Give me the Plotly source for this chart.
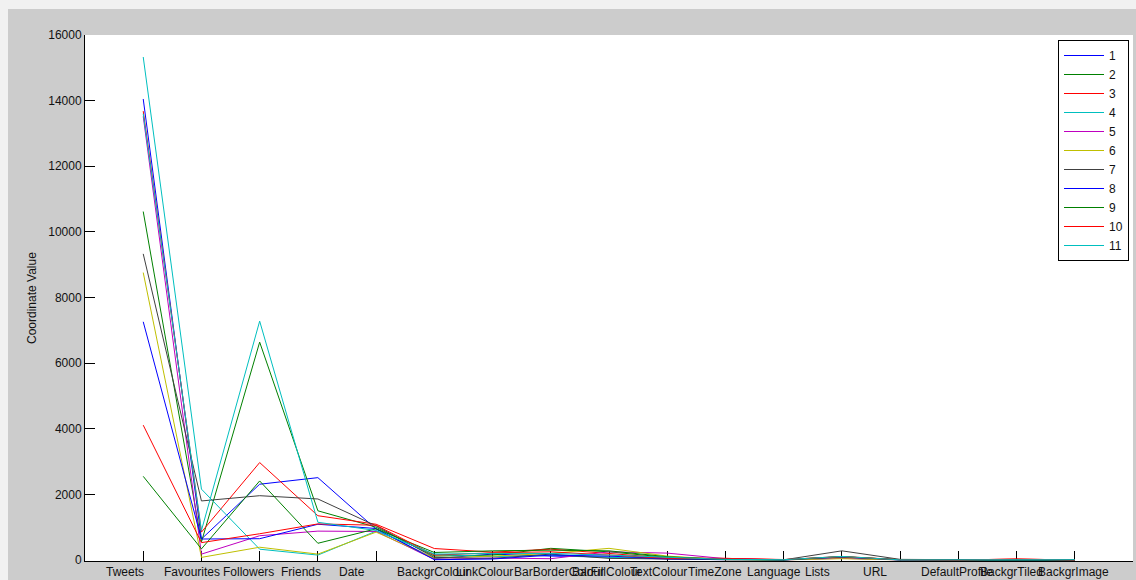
import plotly.graph_objects as go

# Parallel coordinates of Twitter account features
features = ["Tweets", "Favourites", "Followers", "Friends", "Date", "BackgrColour",
            "LinkColour", "BarBorderColour", "BarFillColour", "TextColour", "TimeZone",
            "Language", "Lists", "URL", "DefaultProfile", "BackgrTiled", "BackgrImage"]

series_names = ["1", "2", "3", "4", "5", "6", "7", "8", "9", "10", "11"]

s1 = [14050, 640, 2310, 2510, 940, 40, 180, 120, 90, 30, 10, 5, 60, 5, 0, 0, 0]
s2 = [10620, 550, 6640, 1500, 1000, 120, 150, 356, 250, 80, 20, 5, 100, 5, 0, 0, 0]
s3 = [13680, 850, 2970, 1350, 1090, 350, 240, 330, 200, 60, 50, 10, 110, 10, 0, 30, 0]
s4 = [15330, 2160, 330, 150, 880, 180, 100, 150, 80, 60, 15, 5, 80, 5, 0, 0, 10]
s5 = [13520, 180, 740, 880, 870, 20, 60, 40, 250, 210, 40, 5, 50, 5, 0, 0, 0]
s6 = [8760, 80, 390, 180, 850, 60, 120, 200, 356, 120, 10, 5, 40, 5, 0, 0, 0]
s7 = [9330, 1800, 1960, 1860, 1040, 80, 50, 180, 50, 20, 10, 5, 280, 20, 0, 0, 0]
s8 = [7260, 640, 650, 1090, 960, 10, 30, 150, 120, 40, 30, 5, 90, 5, 0, 0, 0]
s9 = [2550, 340, 2410, 510, 950, 230, 280, 300, 280, 100, 20, 5, 100, 10, 0, 0, 0]
s10 = [4110, 530, 800, 1100, 1060, 150, 220, 250, 150, 50, 50, 15, 100, 10, 0, 30, 0]
s11 = [13600, 900, 7280, 1150, 900, 180, 200, 200, 150, 90, 20, 10, 110, 5, 0, 0, 10]

all_series = [s1, s2, s3, s4, s5, s6, s7, s8, s9, s10, s11]

# MATLAB-style default colour order
line_colors = ["#0000ff", "#008000", "#ff0000", "#00bfbf", "#bf00bf", "#bfbf00", "#404040",
               "#0000ff", "#008000", "#ff0000", "#00bfbf"]

y_ticks = [0, 2000, 4000, 6000, 8000, 10000, 12000, 14000, 16000]

FONT = "Liberation Sans, Arial, sans-serif"
W, H = 1136, 580
ML, MR, MT, MB = 85, 3, 35, 19
PW = W - ML - MR
PH = H - MT - MB


def px_x(px):
    return (px - ML) / PW


def px_y(py):
    return (H - MB - py) / PH


positions = list(range(1, len(features) + 1))

fig = go.Figure()
for name, vals, col in zip(series_names, all_series, line_colors):
    fig.add_trace(go.Scatter(
        x=positions, y=vals, mode="lines", name=name,
        line=dict(color=col, width=1),
    ))

annotations = []
for pos, label in zip(positions, features):
    annotations.append(dict(
        x=pos, y=0, xref="x", yref="paper", text=label, showarrow=False,
        xanchor="left", yanchor="top", xshift=-39, yshift=-2,
        font=dict(family=FONT, size=12, color="#111111"),
    ))
annotations.append(dict(
    x=px_x(32), y=px_y(298), xref="paper", yref="paper", text="Coordinate Value",
    showarrow=False, textangle=-90, xanchor="center", yanchor="middle",
    font=dict(family=FONT, size=12, color="#111111"),
))

shapes = [
    # light window border strips around the grey figure area
    dict(type="rect", xref="paper", yref="paper", layer="below",
         x0=px_x(0), x1=px_x(W), y0=px_y(9), y1=px_y(0),
         fillcolor="#f1f1f1", line=dict(width=0)),
    dict(type="rect", xref="paper", yref="paper", layer="below",
         x0=px_x(0), x1=px_x(8), y0=px_y(H), y1=px_y(0),
         fillcolor="#f1f1f1", line=dict(width=0)),
]

fig.update_layout(
    width=W, height=H,
    margin=dict(l=ML, r=MR, t=MT, b=MB, pad=0),
    paper_bgcolor="#cccccc",
    plot_bgcolor="#ffffff",
    font=dict(family=FONT, size=12, color="#111111"),
    showlegend=True,
    legend=dict(
        x=px_x(1129), y=px_y(40), xanchor="right", yanchor="top",
        bgcolor="#ffffff", bordercolor="#000000", borderwidth=1,
        font=dict(family=FONT, size=12, color="#111111"),
        itemwidth=40, tracegroupgap=0,
    ),
    annotations=annotations,
    shapes=shapes,
    xaxis=dict(
        range=[0, len(features) + 1], tickvals=positions, showticklabels=False,
        ticks="inside", ticklen=10, tickcolor="#000000", tickwidth=1,
        showline=True, linecolor="#000000", linewidth=1, mirror=False,
        showgrid=False, zeroline=False, layer="below traces", fixedrange=True,
    ),
    yaxis=dict(
        range=[-30, 16000], tickvals=y_ticks, ticktext=[str(v) for v in y_ticks],
        ticks="inside", ticklen=10, tickcolor="#000000", tickwidth=1,
        showline=True, linecolor="#000000", linewidth=1, mirror=False,
        showgrid=False, zeroline=False, layer="below traces", fixedrange=True,
        tickfont=dict(family=FONT, size=12, color="#111111"),
    ),
)

fig.write_html("out.html")
